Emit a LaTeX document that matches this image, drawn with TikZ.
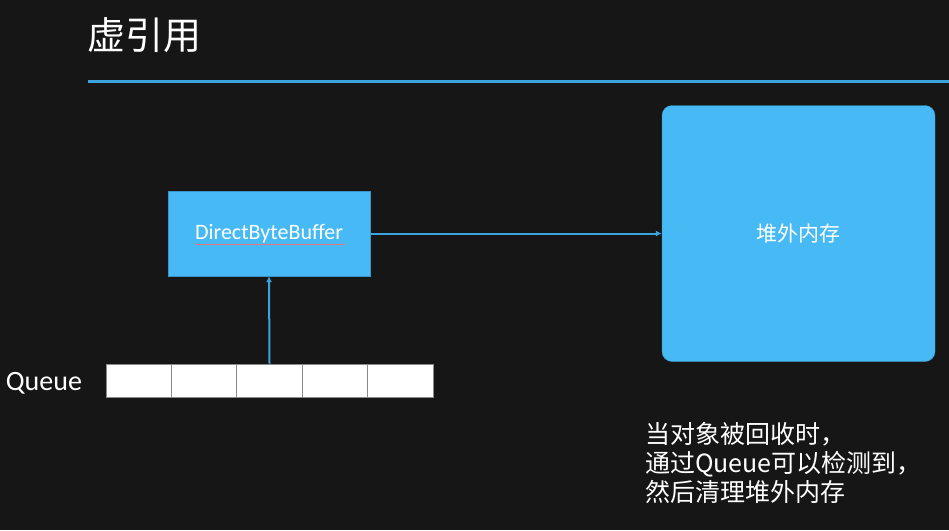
\documentclass[tikz,border=0pt]{standalone}
\usepackage{fontspec}
\setmainfont{Carlito}
\newfontfamily\cjk{Noto Sans CJK SC}
\usetikzlibrary{arrows.meta,positioning}
\tikzset{>={Latex[width=6pt,length=6pt]}}
\definecolor{board}{HTML}{161616}
\definecolor{skyblue}{HTML}{47BAF6}
\definecolor{lineblue}{HTML}{3AA2DC}
\definecolor{cellgray}{HTML}{8A8A8A}
\definecolor{spellred}{HTML}{E87878}
\tikzset{
  memblock/.style={fill=skyblue, draw=skyblue!80!black, text=white},
  qcell/.style={fill=white, draw=cellgray, line width=1pt,
    minimum width=65.4pt, minimum height=33pt, inner sep=0pt},
  link/.style={->, draw=lineblue, line width=2pt}
}

\begin{document}
\begin{tikzpicture}[x=1pt, y=-1pt]

  % background
  \fill[board] (0,0) rectangle (949,530);
  \useasboundingbox (0,0) rectangle (949,530);

  % title
  \node[text=white, font=\cjk\fontsize{38}{42}\selectfont] (title) at (144,35) {虚引用};
  \draw[lineblue, line width=3pt] (88,81) -- (949,81);

  % boxes
  \node[memblock, minimum width=202pt, minimum height=85pt, inner sep=0pt,
    font=\fontsize{22}{26}\selectfont] (dbb) at (269,233.5) {DirectByteBuffer};
  \draw[spellred, line width=1pt] (195,244) -- (345,244);
  \node[memblock, rounded corners=10pt, minimum width=273pt, minimum height=256pt,
    inner sep=0pt, font=\cjk\fontsize{21}{25}\selectfont] (heap) at (798.5,233.5) {堆外内存};

  % queue
  \foreach \i in {1,...,5}
    \node[qcell] (q\i) at ({106+65.4*(\i-0.5)},380.5) {};
  \node[text=white, font=\fontsize{28}{32}\selectfont, left=20pt of q1, yshift=-3pt] (qlabel) {Queue};

  \draw[link] (dbb.east) -- (heap.west);
  \draw[link] (q3.north) -- (dbb.south);

  % note
  \node[text=white, align=left, anchor=north west, inner sep=0pt,
    font=\cjk\fontsize{25}{29}\selectfont] (note) at (645,422)
    {当对象被回收时，\\通过Queue可以检测到，\\然后清理堆外内存};

\end{tikzpicture}
\end{document}
